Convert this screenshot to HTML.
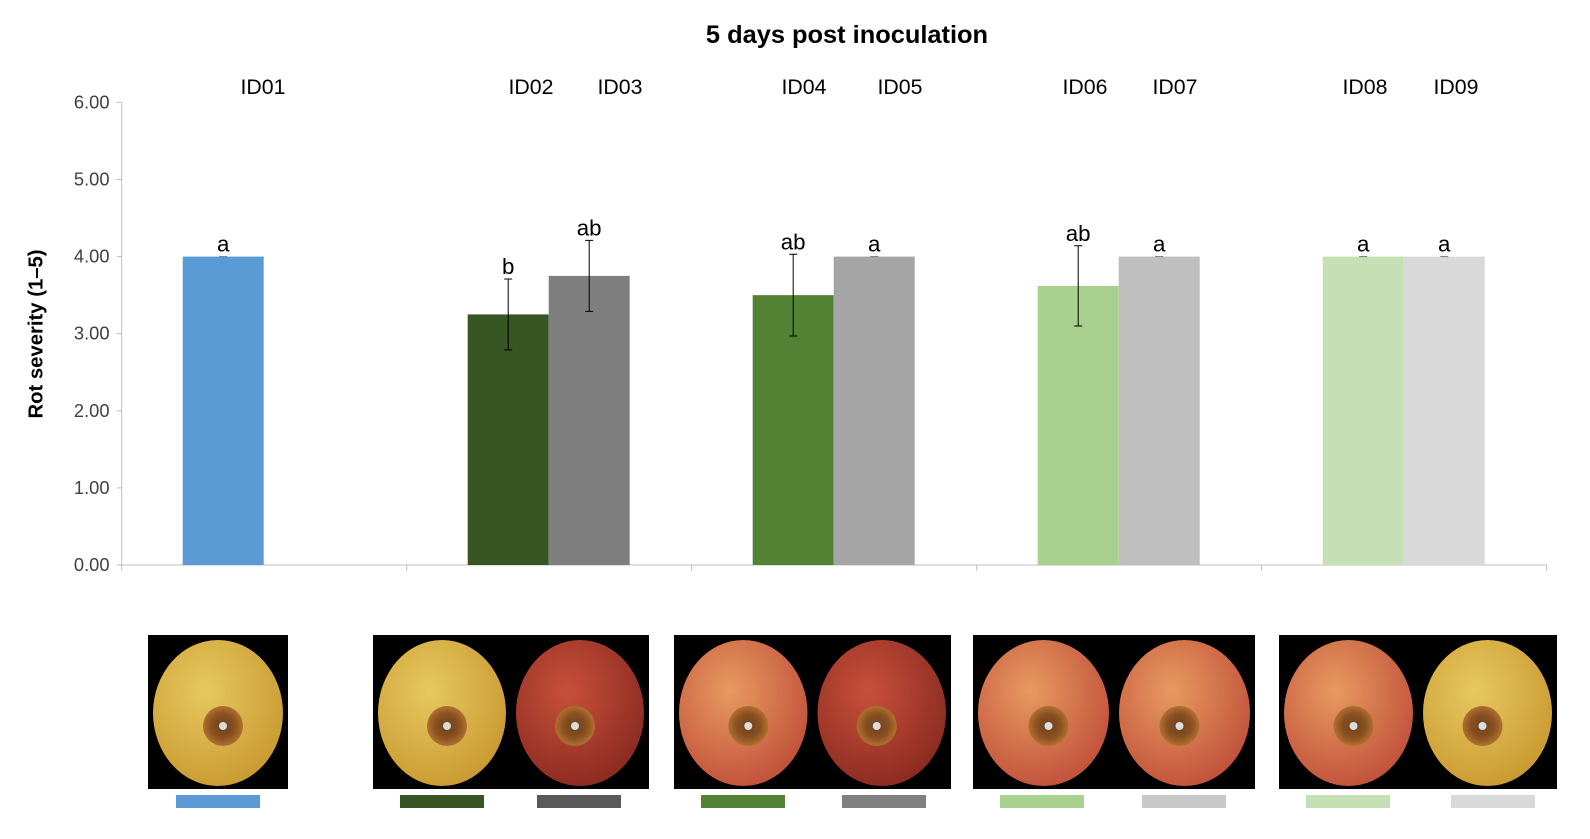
<!DOCTYPE html>
<html><head><meta charset="utf-8"><style>
body{margin:0;background:#fff;width:1590px;height:834px;overflow:hidden;font-family:"Liberation Sans",sans-serif}
</style></head><body>
<svg id="c" width="1590" height="834" xmlns="http://www.w3.org/2000/svg">
<defs>
<radialGradient id="ay" cx="0.4" cy="0.35" r="0.7"><stop offset="0" stop-color="#e8c860"/><stop offset="1" stop-color="#c89a30"/></radialGradient>
<radialGradient id="ar" cx="0.4" cy="0.35" r="0.7"><stop offset="0" stop-color="#c8503a"/><stop offset="1" stop-color="#8a2a20"/></radialGradient>
<radialGradient id="ao" cx="0.4" cy="0.35" r="0.7"><stop offset="0" stop-color="#e89a60"/><stop offset="1" stop-color="#c0503a"/></radialGradient>
<radialGradient id="aw" cx="0.5" cy="0.5" r="0.5"><stop offset="0" stop-color="#6a4020"/><stop offset="0.6" stop-color="#8a5020"/><stop offset="1" stop-color="#b07030"/></radialGradient>
</defs>
</svg>
<script>
const categories=["ID01","ID02","ID03","ID04","ID05","ID06","ID07","ID08","ID09"];
const values=[4.00,3.25,3.75,3.50,4.00,3.62,4.00,4.00,4.00];
const errors=[0,0.46,0.46,0.53,0,0.52,0,0,0];
const letters=["a","b","ab","ab","a","ab","a","a","a"];
const colors=["#5b9bd5","#375623","#7f7f7f","#548235","#a5a5a5","#a9d18e","#bfbfbf","#c5e0b4","#d9d9d9"];
const swatchColors=["#5b9bd5","#375623","#595959","#548235","#808080","#a9d18e","#c8c8c8","#c5e0b4","#d9d9d9"];
const yTicks=[0,1,2,3,4,5,6];
const groupOf=[0,1,1,2,2,3,3,4,4];
const slotOf=[0,0,1,0,1,0,1,0,1];
const NS="http://www.w3.org/2000/svg";
const svg=document.getElementById('c');
function mk(t,a,txt){const e=document.createElementNS(NS,t);for(const k in a)e.setAttribute(k,a[k]);if(txt!=null)e.textContent=txt;svg.appendChild(e);return e;}
const y0=565,ppu=77.1,x0=121.7,gw=285,bw=81,xEnd=1547;
const labelX=[263,531,620,804,900,1085,1175,1365,1456];
const Y=v=>y0-v*ppu;
const X=i=>x0+groupOf[i]*gw+61+slotOf[i]*bw;
let t=mk('text',{x:847,y:43,'text-anchor':'middle','font-size':25.4,'font-weight':'bold',fill:'#000'},'5 days post inoculation');

let a=mk('line',{x1:x0,y1:Y(6),x2:x0,y2:y0,stroke:'#bfbfbf'});

a=mk('line',{x1:x0,y1:y0,x2:xEnd,y2:y0,stroke:'#bfbfbf'});

for(let g=0;g<=5;g++){mk('line',{x1:x0+g*gw,y1:y0,x2:x0+g*gw,y2:y0+6,stroke:'#bfbfbf'});}
yTicks.forEach(v=>{mk('line',{x1:x0-5,y1:Y(v),x2:x0,y2:Y(v),stroke:'#bfbfbf'});
 const e=mk('text',{x:109.5,y:Y(v)+6,'text-anchor':'end','font-size':18.3,fill:'#404040'},v.toFixed(2));
 });
t=mk('text',{x:0,y:0,transform:'translate(42.6,334) rotate(-90)','text-anchor':'middle','font-size':20.3,'font-weight':'bold',fill:'#000'},'Rot severity (1\u20135)');

categories.forEach((c,i)=>{
 const x=X(i),v=values[i];
 const r=mk('rect',{x:x,y:Y(v),width:bw,height:y0-Y(v),fill:colors[i]});
 
 const cx=x+bw/2;
 if(errors[i]>0){
  const e=mk('path',{d:`M${cx} ${Y(v+errors[i])}V${Y(v-errors[i])}M${cx-4} ${Y(v+errors[i])}H${cx+4}M${cx-4} ${Y(v-errors[i])}H${cx+4}`,stroke:'#000','stroke-width':1,fill:'none'});
  
 }else{mk('line',{x1:cx-4,y1:Y(v),x2:cx+4,y2:Y(v),stroke:'#777'});}
 const l=mk('text',{x:cx,y:Y(v+errors[i])-5,'text-anchor':'middle','font-size':22.3,fill:'#000'},letters[i]);
 
 const lab=mk('text',{x:labelX[i],y:94,'text-anchor':'middle','font-size':21.3,fill:'#000'},c);
 
});
const photos=[[148,140,[['ay',0]]],[373,276,[['ay',0],['ar',1]]],[674,277,[['ao',0],['ar',1]]],[973,282,[['ao',0],['ao',1]]],[1279,278,[['ao',0],['ay',1]]]];
photos.forEach((p,gi)=>{
 const r=mk('rect',{x:p[0],y:635,width:p[1],height:154,fill:'#000'});
 
 const n=p[2].length,w=p[1]/n;
 p[2].forEach((ap,k)=>{
  const cx=p[0]+w*k+w/2;
  mk('ellipse',{cx:cx,cy:713,rx:w/2-5,ry:73,fill:'url(#'+ap[0]+')'});
  mk('circle',{cx:cx+(k?-5:5),cy:726,r:20,fill:'url(#aw)'});
  mk('circle',{cx:cx+(k?-5:5),cy:726,r:4,fill:'#ddd'});
 });
});
const swX=[176,400,537,701,842,1000,1142,1306,1451];
swatchColors.forEach((c,i)=>{const s=mk('rect',{x:swX[i],y:795,width:84,height:13,fill:c});
 });
</script>
</body></html>
